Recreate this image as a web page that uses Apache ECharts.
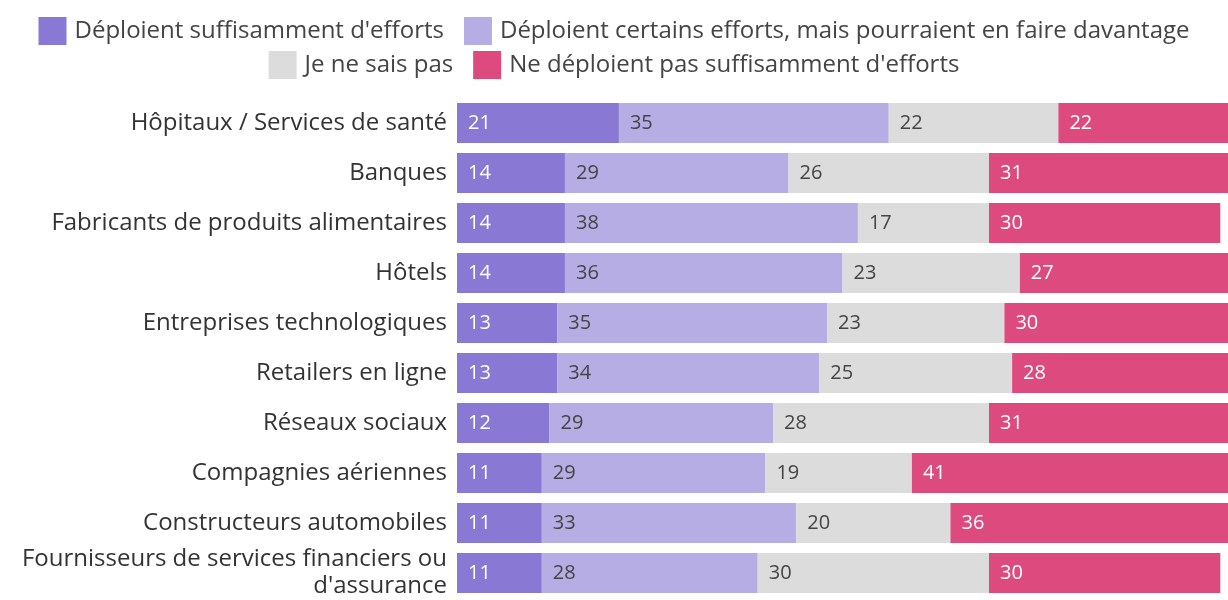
<!DOCTYPE html>
<html>
<head>
<meta charset="utf-8">
<script src="https://cdn.jsdelivr.net/npm/echarts@6/dist/echarts.min.js"></script>
<style>
  html, body { margin: 0; padding: 0; background: #fff; }
  #main { width: 1228px; height: 600px; }
</style>
</head>
<body>
<div id="main"></div>
<script>
// catégories (de haut en bas)
var categories = [
  'Hôpitaux / Services de santé',
  'Banques',
  'Fabricants de produits alimentaires',
  'Hôtels',
  'Entreprises technologiques',
  'Retailers en ligne',
  'Réseaux sociaux',
  'Compagnies aériennes',
  'Constructeurs automobiles',
  'Fournisseurs de services financiers ou\nd\'assurance'
];

var seriesNames = [
  'Déploient suffisamment d\'efforts',
  'Déploient certains efforts, mais pourraient en faire davantage',
  'Je ne sais pas',
  'Ne déploient pas suffisamment d\'efforts'
];

var suffisamment = [21, 14, 14, 14, 13, 13, 12, 11, 11, 11];
var certains     = [35, 29, 38, 36, 35, 34, 29, 29, 33, 28];
var neSaisPas    = [22, 26, 17, 23, 23, 25, 28, 19, 20, 30];
var pasAssez     = [22, 31, 30, 27, 30, 28, 31, 41, 36, 30];

var colors = ['#8979d5', '#b7ade5', '#dcdcdc', '#dc4a7e'];
var labelColors = ['#ffffff', '#444444', '#444444', '#ffffff'];
var font = '"Open Sans", Lato, sans-serif';

var myChart = echarts.init(document.getElementById('main'));

function makeSeries(i, data) {
  return {
    name: seriesNames[i],
    type: 'bar',
    stack: 'total',
    data: data,
    barWidth: 40,
    itemStyle: { color: colors[i] },
    label: {
      show: true,
      position: 'insideLeft',
      distance: 11,
      color: labelColors[i],
      fontSize: 20,
      fontFamily: font
    },
    emphasis: { disabled: true }
  };
}

function makeLegend(names, top) {
  return {
    data: names,
    top: top,
    left: 'center',
    icon: 'rect',
    itemWidth: 28,
    itemHeight: 28,
    itemGap: 20,
    textStyle: { fontSize: 24, color: '#444', fontFamily: font, padding: [0, 0, 0, 3] }
  };
}

var option = {
  animation: false,
  legend: [
    makeLegend([seriesNames[0], seriesNames[1]], 12),
    makeLegend([seriesNames[2], seriesNames[3]], 46)
  ],
  grid: { left: 457, right: -5, top: 98, bottom: 2, containLabel: false },
  xAxis: {
    type: 'value',
    min: 0,
    max: 100,
    show: false
  },
  yAxis: {
    type: 'category',
    inverse: true,
    data: categories,
    axisLine: { show: false },
    axisTick: { show: false },
    axisLabel: {
      margin: 10,
      fontSize: 24,
      lineHeight: 27,
      color: '#333',
      fontFamily: font
    }
  },
  series: [
    makeSeries(0, suffisamment),
    makeSeries(1, certains),
    makeSeries(2, neSaisPas),
    makeSeries(3, pasAssez)
  ]
};

myChart.setOption(option);
</script>
</body>
</html>
